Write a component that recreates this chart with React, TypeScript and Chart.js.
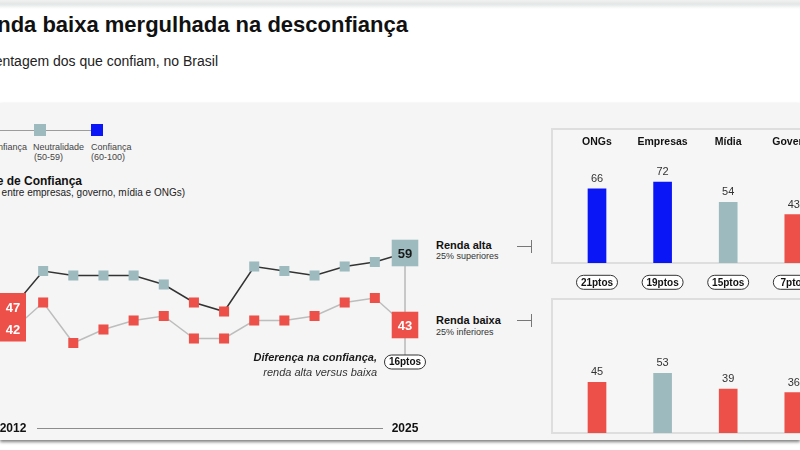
import React, { useEffect, useRef } from "react";
import { Chart, registerables } from "chart.js";

Chart.register(...registerables);

// ---------- data ----------
const years = [2012, 2013, 2014, 2015, 2016, 2017, 2018, 2019, 2020, 2021, 2022, 2023, 2024, 2025];
const rendaAlta = [47, 55, 54, 54, 54, 52, 48, 46, 56, 55, 54, 56, 57, 59];
const rendaBaixa = [42, 48, 39, 42, 44, 45, 40, 40, 44, 44, 45, 48, 49, 43];
const categories = ["ONGs", "Empresas", "Mídia", "Governo"];
const altaPorSetor = [66, 72, 54, 43];
const baixaPorSetor = [45, 53, 39, 36];

const FONT = "'Liberation Sans', Arial, Helvetica, sans-serif";
const RED = "#ed5049";
const TEAL = "#9dbbbf";
const BLUE = "#0a16f5";
const colorFor = (v: number) => (v >= 60 ? BLUE : v >= 50 ? TEAL : RED);

function pill(ctx: CanvasRenderingContext2D, cx: number, cy: number, w: number, h: number, text: string) {
  const r = h / 2;
  ctx.save();
  ctx.beginPath();
  ctx.moveTo(cx - w / 2 + r, cy - r);
  ctx.lineTo(cx + w / 2 - r, cy - r);
  ctx.arc(cx + w / 2 - r, cy, r, -Math.PI / 2, Math.PI / 2);
  ctx.lineTo(cx - w / 2 + r, cy + r);
  ctx.arc(cx - w / 2 + r, cy, r, Math.PI / 2, (3 * Math.PI) / 2);
  ctx.closePath();
  ctx.fillStyle = "#ffffff";
  ctx.fill();
  ctx.strokeStyle = "#333";
  ctx.lineWidth = 1;
  ctx.stroke();
  ctx.fillStyle = "#111";
  ctx.font = `bold 10px ${FONT}`;
  ctx.textAlign = "center";
  ctx.textBaseline = "middle";
  ctx.fillText(text, cx, cy + 0.5);
  ctx.restore();
}

const lineDecor = {
  id: "lineDecor",
  beforeDatasetsDraw(chart: any) {
    const { ctx, scales } = chart;
    const x = scales.x, y = scales.y;
    const last = years.length - 1;
    const xl = x.getPixelForValue(years[last]);
    const pillY = y.getPixelForValue(rendaBaixa[last]) + 37;
    ctx.save();
    ctx.strokeStyle = "#9a9a9a";
    ctx.lineWidth = 1;
    ctx.beginPath();
    ctx.moveTo(xl, y.getPixelForValue(rendaAlta[last]));
    ctx.lineTo(xl, pillY - 7);
    ctx.stroke();
    ctx.restore();
  },
  afterDatasetsDraw(chart: any) {
    const { ctx, scales, chartArea } = chart;
    const x = scales.x, y = scales.y;
    const last = years.length - 1;
    const x0 = x.getPixelForValue(years[0]);
    const xl = x.getPixelForValue(years[last]);
    ctx.save();
    // first-year combined box
    const ya0 = y.getPixelForValue(rendaAlta[0]);
    const yb0 = y.getPixelForValue(rendaBaixa[0]);
    ctx.fillStyle = colorFor(Math.max(rendaAlta[0], rendaBaixa[0]));
    ctx.fillRect(x0 - 13, ya0 - 14, 26, yb0 + 12 - (ya0 - 14));
    ctx.font = `bold 13px ${FONT}`;
    ctx.textAlign = "center";
    ctx.textBaseline = "middle";
    ctx.fillStyle = "#fff";
    ctx.fillText(String(rendaAlta[0]), x0, ya0 + 1);
    ctx.fillText(String(rendaBaixa[0]), x0, yb0 + 1);
    // last-year labels
    const yal = y.getPixelForValue(rendaAlta[last]);
    const ybl = y.getPixelForValue(rendaBaixa[last]);
    ctx.fillStyle = rendaAlta[last] >= 50 && rendaAlta[last] < 60 ? "#1a1a1a" : "#fff";
    ctx.fillText(String(rendaAlta[last]), xl, yal + 1);
    ctx.fillStyle = rendaBaixa[last] >= 50 && rendaBaixa[last] < 60 ? "#1a1a1a" : "#fff";
    ctx.fillText(String(rendaBaixa[last]), xl, ybl + 1);
    // difference pill
    const pillY = ybl + 37;
    pill(ctx, xl, pillY, 41, 14, `${rendaAlta[last] - rendaBaixa[last]}ptos`);
    ctx.textAlign = "right";
    ctx.fillStyle = "#1a1a1a";
    ctx.font = `italic bold 11px ${FONT}`;
    ctx.fillText("Diferença na confiança,", xl - 28, pillY - 4);
    ctx.font = `italic 11px ${FONT}`;
    ctx.fillStyle = "#333";
    ctx.fillText("renda alta versus baixa", xl - 28, pillY + 11);
    // bottom axis
    const ay = chartArea.bottom + 44.5;
    ctx.font = `bold 12px ${FONT}`;
    ctx.textAlign = "center";
    ctx.fillStyle = "#111";
    ctx.fillText(String(years[0]), x0, ay + 1);
    ctx.fillText(String(years[last]), xl, ay + 1);
    ctx.strokeStyle = "#8c8c8c";
    ctx.lineWidth = 1;
    ctx.beginPath();
    ctx.moveTo(x0 + 24, ay + 0.5);
    ctx.lineTo(xl - 22, ay + 0.5);
    ctx.stroke();
    ctx.restore();
  },
};

const makeBarDecor = (values: number[], headers: boolean, diffs: number[] | null) => ({
  id: "barDecor",
  afterDatasetsDraw(chart: any) {
    const { ctx, chartArea } = chart;
    const meta = chart.getDatasetMeta(0);
    ctx.save();
    ctx.textAlign = "center";
    ctx.textBaseline = "middle";
    meta.data.forEach((bar: any, i: number) => {
      ctx.font = `11px ${FONT}`;
      ctx.fillStyle = "#333";
      ctx.fillText(String(values[i]), bar.x, bar.y - 10);
      if (headers) {
        ctx.font = `bold 10.5px ${FONT}`;
        ctx.fillStyle = "#111";
        ctx.fillText(categories[i], bar.x, chartArea.top + 13.7);
      }
      if (diffs) {
        pill(ctx, bar.x, chartArea.bottom + 19.3, 41, 14, `${diffs[i]}ptos`);
      }
    });
    ctx.restore();
  },
});

function LineChart() {
  const ref = useRef<HTMLCanvasElement>(null);
  useEffect(() => {
    const r = 7.1;
    const radii = years.map((_, i) => (i === 0 ? 0 : i === years.length - 1 ? 18.8 : r));
    const chart = new Chart(ref.current!, {
      type: "line",
      data: {
        datasets: [
          {
            label: "Renda alta",
            data: years.map((yr, i) => ({ x: yr, y: rendaAlta[i] })),
            borderColor: "#333",
            borderWidth: 1.5,
            pointStyle: "rect",
            pointRadius: radii,
            pointBackgroundColor: rendaAlta.map(colorFor),
            pointBorderWidth: 0,
            clip: false as any,
          },
          {
            label: "Renda baixa",
            data: years.map((yr, i) => ({ x: yr, y: rendaBaixa[i] })),
            borderColor: "#bdbdbd",
            borderWidth: 1.5,
            pointStyle: "rect",
            pointRadius: radii,
            pointBackgroundColor: rendaBaixa.map(colorFor),
            pointBorderWidth: 0,
            clip: false as any,
          },
        ],
      },
      options: {
        animation: false,
        responsive: false,
        events: [],
        layout: { autoPadding: false, padding: { left: 13, right: 35, top: 203.5, bottom: 66.5 } },
        scales: {
          x: { type: "linear", min: 2012, max: 2025, display: false },
          y: { min: 30, max: 70, display: false },
        },
        plugins: { legend: { display: false }, tooltip: { enabled: false } },
      },
      plugins: [lineDecor],
    });
    return () => chart.destroy();
  }, []);
  return (
    <canvas
      ref={ref}
      width={440}
      height={450}
      style={{ position: "absolute", left: 0, top: 0, width: 440, height: 450 }}
    />
  );
}

function BarChart({ values, top, height, padBottom, headers, diffs }: any) {
  const ref = useRef<HTMLCanvasElement>(null);
  useEffect(() => {
    const chart = new Chart(ref.current!, {
      type: "bar",
      data: {
        labels: categories,
        datasets: [
          {
            data: values,
            backgroundColor: values.map(colorFor),
            borderWidth: 0,
            barThickness: 18,
          },
        ],
      },
      options: {
        animation: false,
        responsive: false,
        events: [],
        layout: { autoPadding: false, padding: { left: 13.2, right: 24.4, top: 0, bottom: padBottom } },
        scales: {
          x: { display: false },
          y: { min: 0, max: 120, display: false },
        },
        plugins: { legend: { display: false }, tooltip: { enabled: false } },
      },
      plugins: [makeBarDecor(values, headers, diffs)],
    });
    return () => chart.destroy();
  }, []);
  return (
    <canvas
      ref={ref}
      width={300}
      height={height}
      style={{ position: "absolute", left: 551, top, width: 300, height }}
    />
  );
}

function T({ x, y, size, bold, italic, color, right, children }: any) {
  const style: any = {
    position: "absolute",
    top: y - 0.8465 * size,
    fontSize: size,
    lineHeight: `${size}px`,
    whiteSpace: "nowrap",
    fontWeight: bold ? 700 : 400,
    fontStyle: italic ? "italic" : "normal",
    color: color || "#222",
    fontFamily: FONT,
  };
  if (right) style.right = 800 - x;
  else style.left = x;
  return <div style={style}>{children}</div>;
}

const abs = (s: any) => ({ position: "absolute" as const, ...s });

export default function App() {
  const diffs = altaPorSetor.map((v, i) => v - baixaPorSetor[i]);
  return (
    <div
      style={{
        position: "absolute",
        left: 0,
        top: 0,
        width: 800,
        height: 450,
        overflow: "hidden",
        background: "#fff",
        fontFamily: FONT,
      }}
    >
      <div style={abs({ left: 0, top: 0, width: 800, height: 9, background: "linear-gradient(to bottom, #f1f1f1 0%, #e3e6e6 45%, #ffffff 100%)" })} />
      <div style={abs({ left: 0, top: 103, width: 800, height: 337, background: "#f5f5f5", boxShadow: "0 2px 3px rgba(0,0,0,0.5)" })} />

      <T x={408} y={33} size={22} bold right color="#111">Renda baixa mergulhada na desconfiança</T>
      <T x={218} y={66} size={14} right color="#222">Porcentagem dos que confiam, no Brasil</T>

      {/* legend */}
      <div style={abs({ left: 0, top: 129.5, width: 97, height: 1.5, background: "#9c9c9c" })} />
      <div style={abs({ left: -24, top: 124, width: 12, height: 12, background: RED })} />
      <div style={abs({ left: 34, top: 124, width: 12, height: 12, background: TEAL })} />
      <div style={abs({ left: 91, top: 124, width: 12, height: 12, background: BLUE })} />
      <T x={27} y={151} size={9} right color="#444">Desconfiança</T>
      <T x={33} y={151} size={9} color="#444">Neutralidade</T>
      <T x={34} y={161} size={9} color="#444">(50-59)</T>
      <T x={91} y={151} size={9} color="#444">Confiança</T>
      <T x={91} y={161} size={9} color="#444">(60-100)</T>

      <T x={82} y={185} size={12} bold right color="#111">Índice de Confiança</T>
      <T x={185} y={196.5} size={10} right color="#222">(média entre empresas, governo, mídia e ONGs)</T>

      <T x={436} y={249.5} size={11} bold color="#111">Renda alta</T>
      <T x={436} y={260} size={9} color="#333">25% superiores</T>
      <T x={436} y={324} size={11} bold color="#111">Renda baixa</T>
      <T x={436} y={336} size={9} color="#333">25% inferiores</T>

      <div style={abs({ left: 517, top: 246, width: 15, height: 1, background: "#777" })} />
      <div style={abs({ left: 531, top: 240, width: 1, height: 13, background: "#777" })} />
      <div style={abs({ left: 517, top: 320, width: 15, height: 1, background: "#777" })} />
      <div style={abs({ left: 531, top: 314, width: 1, height: 13, background: "#777" })} />

      {/* panels */}
      <div style={abs({ left: 551, top: 128, width: 280, height: 136, border: "2px solid #dedede", boxSizing: "border-box", background: "#f6f6f6" })} />
      <div style={abs({ left: 551, top: 298, width: 280, height: 136, border: "2px solid #dedede", boxSizing: "border-box", background: "#f6f6f6" })} />

      <BarChart values={altaPorSetor} top={128} height={170} padBottom={35} headers diffs={diffs} />
      <BarChart values={baixaPorSetor} top={298} height={135} padBottom={0} headers={false} diffs={null} />

      <LineChart />
    </div>
  );
}
